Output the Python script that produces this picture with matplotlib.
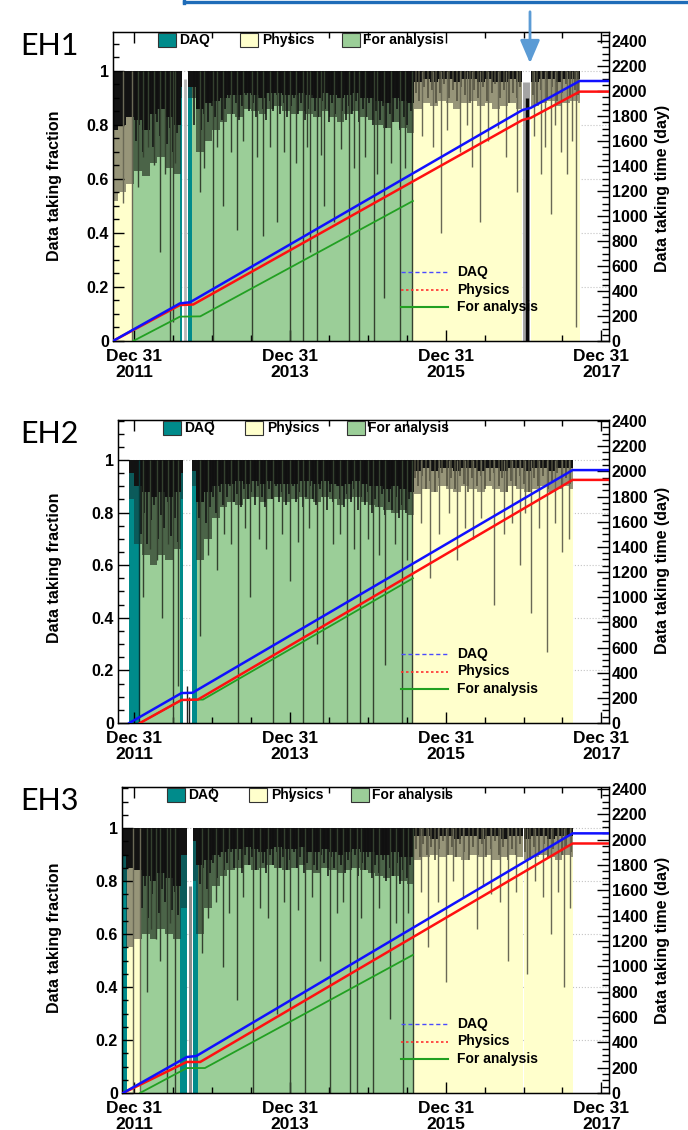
import numpy as np
import matplotlib.pyplot as plt
from matplotlib.patches import Rectangle, FancyArrowPatch
from matplotlib.lines import Line2D
from matplotlib.ticker import MultipleLocator

plt.rcParams['font.family'] = ['Liberation Sans', 'DejaVu Sans']
plt.rcParams['font.weight'] = 'bold'

W, H = 688, 1130

# daily fractions, summarised in 0.1-year bins starting at 2011.7 (percent)
BIN0, BIN = 2011.7, 0.1

# ---------------- EH1 ----------------
eh1_segments = [(2011.73, 2011.98, 'phys'), (2011.98, 2012.59, 'ana'),
                (2012.59, 2012.615, 'daq'), (2012.69, 2012.745, 'daq'),
                (2012.745, 2015.58, 'ana'), (2015.58, 2016.985, 'phys'),
                (2017.09, 2017.72, 'phys')]
eh1_solid = [52, 55, 58,
             63, 61, 66, 68, 64, 62, 90, 90, 70, 74,
             78, 81, 84, 83, 86, 85, 84, 86, 87, 85,
             84, 85, 84, 83, 85, 83, 81, 84, 85, 83,
             82, 80, 79, 81, 79, 77, 86, 88, 87, 89,
             88, 86, 88, 89, 87, 88, 86, 87, 88, 86,
             86, 87, 88, 89, 87, 88, 89, 88]
eh1_black = [78, 80, 83,
             82, 78, 84, 86, 83, 80, 94, 94, 86, 88,
             89, 90, 91, 91, 92, 91, 90, 92, 92, 91,
             91, 92, 91, 90, 92, 91, 90, 91, 92, 90,
             90, 89, 88, 90, 89, 88, 96, 97, 96, 97,
             97, 96, 97, 97, 96, 97, 96, 96, 97, 96,
             96, 96, 97, 97, 96, 97, 97, 97]
# days that fall well below the bin level: (year, fraction)
eh1_dips = [(2011.862, 0.51), (2011.98, 0.0), (2012.055, 0.57), (2012.18, 0.72),
            (2012.334, 0.33), (2012.463, 0.0), (2012.501, 0.07), (2012.848, 0.55),
            (2013.019, 0.0), (2013.144, 0.50), (2013.320, 0.41), (2013.513, 0.0),
            (2013.658, 0.39), (2013.834, 0.44), (2014.005, 0.0), (2014.172, 0.0),
            (2014.262, 0.33), (2014.348, 0.0), (2014.433, 0.50), (2014.562, 0.44),
            (2014.754, 0.0), (2014.883, 0.0), (2015.076, 0.0), (2015.204, 0.16),
            (2015.419, 0.0), (2015.575, 0.0),
            (2012.12, 0.68), (2012.26, 0.65), (2012.40, 0.62), (2012.52, 0.66),
            (2012.90, 0.64), (2013.06, 0.72), (2013.24, 0.70), (2013.40, 0.74),
            (2013.58, 0.68), (2013.74, 0.72), (2013.92, 0.70), (2014.08, 0.66),
            (2014.22, 0.72), (2014.40, 0.69), (2014.66, 0.71), (2014.82, 0.64),
            (2014.96, 0.68), (2015.12, 0.62), (2015.30, 0.66), (2015.48, 0.64),
            (2015.946, 0.40), (2016.341, 0.645), (2016.447, 0.44), (2016.679, 0.79),
            (2016.919, 0.55), (2017.219, 0.62), (2017.347, 0.47), (2017.476, 0.70),
            (2017.562, 0.62), (2017.668, 0.05),
            (2015.70, 0.76), (2015.84, 0.72), (2016.02, 0.78), (2016.18, 0.70),
            (2016.27, 0.80), (2016.55, 0.74), (2016.78, 0.68), (2017.14, 0.76),
            (2017.28, 0.72), (2017.40, 0.80), (2017.62, 0.74)]
# ragged lower edge of the dark band: (year, fraction)
eh1_streaks = [(2012.02, .74), (2012.07, .80), (2012.11, .70), (2012.15, .78), (2012.20, .84),
               (2012.24, .72), (2012.29, .81), (2012.33, .76), (2012.37, .86), (2012.42, .73),
               (2012.46, .79), (2012.50, .70), (2012.55, .77),
               (2012.77, .80), (2012.81, .86), (2012.86, .78), (2012.90, .84), (2012.95, .81),
               (2013.00, .87), (2013.04, .83), (2013.08, .89), (2013.13, .82), (2013.17, .86),
               (2013.22, .90), (2013.26, .84), (2013.31, .88), (2013.35, .82), (2013.39, .87),
               (2013.44, .91), (2013.48, .85), (2013.53, .88), (2013.57, .83), (2013.61, .90),
               (2013.66, .86), (2013.70, .82), (2013.75, .89), (2013.79, .85), (2013.84, .91),
               (2013.88, .84), (2013.92, .88), (2013.97, .83), (2014.01, .87), (2014.06, .90),
               (2014.10, .84), (2014.14, .88), (2014.19, .82), (2014.23, .86), (2014.28, .90),
               (2014.32, .85), (2014.36, .83), (2014.41, .89), (2014.45, .86), (2014.50, .81),
               (2014.54, .88), (2014.58, .84), (2014.63, .90), (2014.67, .85), (2014.72, .82),
               (2014.76, .87), (2014.80, .84), (2014.85, .89), (2014.89, .81), (2014.94, .86),
               (2014.98, .83), (2015.02, .88), (2015.07, .80), (2015.11, .85), (2015.16, .82),
               (2015.20, .87), (2015.24, .79), (2015.29, .84), (2015.33, .81), (2015.38, .86),
               (2015.42, .78), (2015.46, .83), (2015.51, .80), (2015.55, .85),
               (2015.62, .92), (2015.66, .89), (2015.72, .94), (2015.77, .90), (2015.82, .93),
               (2015.88, .88), (2015.93, .92), (2015.98, .95), (2016.04, .90), (2016.09, .93),
               (2016.14, .89), (2016.20, .94), (2016.25, .91), (2016.31, .88), (2016.36, .93),
               (2016.42, .90), (2016.48, .94), (2016.53, .89), (2016.59, .92), (2016.64, .95),
               (2016.70, .90), (2016.75, .93), (2016.81, .88), (2016.86, .92), (2016.92, .90),
               (2016.96, .94), (2017.12, .91), (2017.17, .88), (2017.23, .93), (2017.30, .90),
               (2017.36, .94), (2017.43, .89), (2017.49, .92), (2017.55, .95), (2017.60, .90),
               (2017.66, .93), (2017.70, .91)]
# short runs inside the shutdowns: (year, top, colour, width)
eh1_gap_marks = [(2012.65, 0.97, '#b8b8b8', 2.0),
                 (2017.035, 0.96, '#a4a4a4', 5.0),
                 (2017.04, 0.90, '#0a0a0a', 2.4)]
eh1_daq = [(2011.73, 0), (2012.59, 301), (2012.72, 310), (2016.987, 1848),
           (2017.09, 1864), (2017.72, 2080), (2018.10, 2080)]
eh1_phys = [(2011.73, 0), (2012.59, 288), (2012.76, 292), (2016.987, 1768),
            (2017.09, 1784), (2017.72, 1995), (2018.10, 1995)]
eh1_ana = [(2011.99, 0), (2012.59, 195), (2012.85, 197), (2015.58, 1120)]

# ---------------- EH2 ----------------
eh2_segments = [(2011.94, 2012.07, 'daq'), (2012.07, 2012.59, 'ana'),
                (2012.59, 2012.63, 'daq'), (2012.74, 2012.805, 'daq'),
                (2012.805, 2015.58, 'ana'), (2015.58, 2017.63, 'phys')]
eh2_solid = [0, 0, 85,
             68, 64, 60, 64, 62, 66, 85, 90, 62, 70,
             78, 82, 84, 83, 85, 86, 84, 85, 86, 84,
             85, 86, 85, 84, 86, 85, 83, 85, 86, 84,
             83, 82, 81, 80, 81, 79, 87, 89, 88, 90,
             89, 88, 90, 89, 88, 90, 89, 88, 90, 89,
             88, 89, 90, 88, 89, 90, 89, 0]
eh2_black = [0, 0, 95,
             90, 88, 86, 88, 86, 88, 95, 96, 84, 88,
             90, 91, 91, 92, 91, 92, 91, 92, 91, 91,
             91, 92, 92, 91, 92, 91, 90, 91, 92, 91,
             90, 90, 89, 90, 89, 88, 96, 97, 96, 97,
             97, 96, 97, 97, 96, 97, 97, 96, 97, 97,
             96, 97, 97, 96, 97, 97, 97, 0]
eh2_dips = [(2012.07, 0.0), (2012.12, 0.48), (2012.356, 0.40), (2012.505, 0.0),
            (2012.569, 0.14), (2012.847, 0.33), (2013.062, 0.58), (2013.339, 0.0),
            (2013.489, 0.48), (2013.788, 0.0), (2014.003, 0.54), (2014.173, 0.0),
            (2014.345, 0.30), (2014.43, 0.0), (2014.73, 0.0), (2014.90, 0.0),
            (2015.072, 0.0), (2015.222, 0.22), (2015.436, 0.0), (2015.575, 0.0),
            (2012.20, 0.66), (2012.30, 0.62), (2012.44, 0.68), (2012.95, 0.64),
            (2013.15, 0.72), (2013.25, 0.68), (2013.42, 0.74), (2013.60, 0.70),
            (2013.70, 0.66), (2013.90, 0.72), (2014.10, 0.69), (2014.25, 0.74),
            (2014.55, 0.68), (2014.65, 0.72), (2014.82, 0.66), (2015.00, 0.70),
            (2015.15, 0.64), (2015.35, 0.68), (2015.50, 0.62),
            (2015.80, 0.55), (2016.15, 0.62), (2016.35, 0.70), (2016.62, 0.45),
            (2016.95, 0.60), (2017.10, 0.42), (2017.30, 0.27), (2017.50, 0.65),
            (2015.68, 0.76), (2015.92, 0.72), (2016.05, 0.80), (2016.25, 0.74),
            (2016.45, 0.78), (2016.75, 0.72), (2016.85, 0.76), (2017.02, 0.80),
            (2017.20, 0.74), (2017.40, 0.76), (2017.58, 0.70)]
eh2_streaks = [(2012.09, .72), (2012.13, .80), (2012.17, .68), (2012.22, .77), (2012.26, .83),
               (2012.31, .70), (2012.35, .79), (2012.39, .74), (2012.44, .84), (2012.48, .71),
               (2012.52, .78), (2012.56, .69),
               (2012.83, .78), (2012.88, .84), (2012.92, .76), (2012.97, .82), (2013.01, .86),
               (2013.05, .80), (2013.10, .88), (2013.14, .83), (2013.19, .86), (2013.23, .90),
               (2013.28, .84), (2013.32, .87), (2013.37, .82), (2013.41, .89), (2013.46, .85),
               (2013.50, .88), (2013.55, .83), (2013.59, .90), (2013.64, .86), (2013.68, .82),
               (2013.73, .89), (2013.77, .85), (2013.82, .90), (2013.86, .84), (2013.90, .88),
               (2013.95, .83), (2013.99, .87), (2014.04, .90), (2014.08, .84), (2014.12, .88),
               (2014.17, .82), (2014.21, .86), (2014.26, .90), (2014.30, .85), (2014.34, .83),
               (2014.39, .89), (2014.43, .86), (2014.48, .81), (2014.52, .88), (2014.56, .84),
               (2014.61, .90), (2014.65, .85), (2014.70, .82), (2014.74, .87), (2014.78, .84),
               (2014.83, .89), (2014.87, .81), (2014.92, .86), (2014.96, .83), (2015.00, .88),
               (2015.05, .80), (2015.09, .85), (2015.14, .82), (2015.18, .87), (2015.22, .79),
               (2015.27, .84), (2015.31, .81), (2015.36, .86), (2015.40, .78), (2015.44, .83),
               (2015.49, .80), (2015.53, .85),
               (2015.61, .93), (2015.65, .90), (2015.70, .94), (2015.75, .89), (2015.80, .92),
               (2015.86, .88), (2015.91, .93), (2015.96, .95), (2016.02, .90), (2016.07, .93),
               (2016.12, .89), (2016.18, .94), (2016.23, .91), (2016.29, .88), (2016.34, .93),
               (2016.40, .90), (2016.46, .94), (2016.51, .89), (2016.57, .92), (2016.62, .95),
               (2016.68, .90), (2016.73, .93), (2016.79, .88), (2016.84, .92), (2016.90, .90),
               (2016.95, .94), (2017.01, .91), (2017.07, .88), (2017.13, .93), (2017.19, .90),
               (2017.25, .94), (2017.31, .89), (2017.37, .92), (2017.43, .95), (2017.49, .90),
               (2017.54, .93), (2017.60, .91)]
eh2_gap_marks = [(2012.68, 0.14, '#202020', 1.0), (2012.70, 0.10, '#202020', 1.0)]
eh2_daq = [(2011.94, 0), (2012.61, 238), (2012.75, 240), (2017.63, 2010),
           (2018.10, 2010)]
eh2_phys = [(2012.077, 0), (2012.61, 183), (2012.82, 186), (2017.63, 1932),
            (2018.10, 1932)]
eh2_ana = [(2012.077, 0), (2012.61, 183), (2012.885, 186), (2015.58, 1150)]

# ---------------- EH3 ----------------
eh3_segments = [(2011.86, 2011.91, 'daq'), (2011.91, 2012.077, 'phys'),
                (2012.077, 2012.59, 'ana'), (2012.59, 2012.677, 'daq'),
                (2012.76, 2012.825, 'daq'), (2012.825, 2015.58, 'ana'),
                (2015.58, 2017.63, 'phys')]
eh3_solid = [0, 80, 55,
             58, 60, 58, 62, 60, 58, 70, 80, 60, 70,
             78, 82, 84, 85, 86, 84, 85, 86, 85, 84,
             85, 86, 84, 83, 85, 84, 83, 84, 85, 84,
             83, 82, 81, 82, 80, 79, 88, 89, 90, 89,
             90, 89, 88, 90, 89, 90, 88, 89, 90, 89,
             88, 89, 90, 89, 88, 90, 89, 0]
eh3_black = [0, 90, 85,
             84, 82, 80, 83, 81, 78, 90, 95, 86, 88,
             90, 91, 92, 92, 93, 92, 91, 92, 93, 92,
             92, 93, 91, 91, 92, 91, 90, 91, 92, 91,
             91, 90, 90, 91, 89, 89, 97, 97, 96, 97,
             97, 96, 97, 97, 96, 97, 97, 96, 97, 97,
             96, 97, 97, 96, 97, 97, 97, 0]
eh3_dips = [(2011.987, 0.0), (2012.077, 0.0), (2012.163, 0.38), (2012.334, 0.50),
            (2012.42, 0.0), (2012.526, 0.0), (2012.869, 0.53), (2013.142, 0.475),
            (2013.318, 0.35), (2013.531, 0.0), (2013.832, 0.30), (2014.003, 0.0),
            (2014.195, 0.0), (2014.388, 0.50), (2014.516, 0.0), (2014.773, 0.0),
            (2014.859, 0.0), (2015.072, 0.0), (2015.286, 0.28), (2015.457, 0.0),
            (2015.578, 0.0),
            (2012.22, 0.62), (2012.28, 0.58), (2012.46, 0.64), (2012.95, 0.66),
            (2013.05, 0.72), (2013.22, 0.68), (2013.40, 0.74), (2013.62, 0.70),
            (2013.72, 0.66), (2013.92, 0.72), (2014.10, 0.69), (2014.28, 0.74),
            (2014.60, 0.68), (2014.68, 0.72), (2014.92, 0.66), (2015.15, 0.70),
            (2015.36, 0.64), (2015.52, 0.68),
            (2015.78, 0.55), (2016.00, 0.42), (2016.40, 0.62), (2016.58, 0.75),
            (2016.80, 0.50), (2017.05, 0.45), (2017.35, 0.60), (2017.52, 0.40),
            (2015.68, 0.76), (2015.90, 0.72), (2016.10, 0.80), (2016.22, 0.74),
            (2016.48, 0.78), (2016.70, 0.72), (2016.90, 0.76), (2017.15, 0.80),
            (2017.25, 0.74), (2017.44, 0.76), (2017.60, 0.70)]
eh3_streaks = [(2012.10, .70), (2012.14, .78), (2012.18, .66), (2012.23, .75), (2012.27, .82),
               (2012.32, .68), (2012.36, .77), (2012.40, .72), (2012.45, .83), (2012.49, .69),
               (2012.53, .76), (2012.57, .67),
               (2012.85, .79), (2012.89, .85), (2012.94, .77), (2012.98, .83), (2013.02, .87),
               (2013.07, .81), (2013.11, .89), (2013.16, .84), (2013.20, .87), (2013.25, .91),
               (2013.29, .85), (2013.34, .88), (2013.38, .83), (2013.43, .90), (2013.47, .86),
               (2013.51, .89), (2013.56, .84), (2013.60, .91), (2013.65, .87), (2013.69, .83),
               (2013.74, .90), (2013.78, .86), (2013.83, .91), (2013.87, .85), (2013.91, .89),
               (2013.96, .84), (2014.00, .88), (2014.05, .91), (2014.09, .85), (2014.13, .89),
               (2014.18, .83), (2014.22, .87), (2014.27, .91), (2014.31, .86), (2014.35, .84),
               (2014.40, .90), (2014.44, .87), (2014.49, .82), (2014.53, .89), (2014.57, .85),
               (2014.62, .91), (2014.66, .86), (2014.71, .83), (2014.75, .88), (2014.79, .85),
               (2014.84, .90), (2014.88, .82), (2014.93, .87), (2014.97, .84), (2015.01, .89),
               (2015.06, .81), (2015.10, .86), (2015.15, .83), (2015.19, .88), (2015.23, .80),
               (2015.28, .85), (2015.32, .82), (2015.37, .87), (2015.41, .79), (2015.45, .84),
               (2015.50, .81), (2015.54, .86),
               (2015.62, .92), (2015.67, .89), (2015.71, .94), (2015.76, .90), (2015.81, .93),
               (2015.87, .88), (2015.92, .92), (2015.97, .95), (2016.03, .90), (2016.08, .93),
               (2016.13, .89), (2016.19, .94), (2016.24, .91), (2016.30, .88), (2016.35, .93),
               (2016.41, .90), (2016.47, .94), (2016.52, .89), (2016.58, .92), (2016.63, .95),
               (2016.69, .90), (2016.74, .93), (2016.80, .88), (2016.85, .92), (2016.91, .90),
               (2016.96, .94), (2017.02, .91), (2017.08, .88), (2017.14, .93), (2017.20, .90),
               (2017.26, .94), (2017.32, .89), (2017.38, .92), (2017.44, .95), (2017.50, .90),
               (2017.55, .93), (2017.61, .91)]
eh3_gap_marks = [(2012.72, 0.78, '#8c8c8c', 2.2)]
eh3_daq = [(2011.86, 0), (2012.677, 284), (2012.80, 292), (2017.63, 2050),
           (2018.10, 2050)]
eh3_phys = [(2011.86, 0), (2012.677, 245), (2012.85, 245), (2017.63, 1970),
            (2018.10, 1970)]
eh3_ana = [(2012.077, 0), (2012.677, 197), (2012.91, 197), (2015.58, 1090)]

halls = [
    ('EH1', eh1_segments, eh1_solid, eh1_black, eh1_dips, eh1_streaks, eh1_gap_marks,
     eh1_daq, eh1_phys, eh1_ana),
    ('EH2', eh2_segments, eh2_solid, eh2_black, eh2_dips, eh2_streaks, eh2_gap_marks,
     eh2_daq, eh2_phys, eh2_ana),
    ('EH3', eh3_segments, eh3_solid, eh3_black, eh3_dips, eh3_streaks, eh3_gap_marks,
     eh3_daq, eh3_phys, eh3_ana),
]

# frame in pixels: left, top, right, bottom; y-range top (fraction), right axis top (days)
frames = [(113, 32, 609, 341, 1.144, 2472),
          (118, 420, 609, 723, 1.152, 2408),
          (122, 787, 609, 1093, 1.155, 2416)]
X2012, PX_PER_YEAR = 134, 77.9

LIGHT = {'ana': '#9bce98', 'phys': '#ffffcc', 'daq': '#008b8b'}
MID = {'ana': '#4b6448', 'phys': '#979579', 'daq': '#0b5a5a'}
DIP = {'ana': '#34412f', 'phys': '#6a6956', 'daq': '#063838'}
STREAK = {'ana': '#101010', 'phys': '#4e4d3c', 'daq': '#062e2e'}
BLACK = '#121212'


def px_to_year(x):
    return 2012 + (x - X2012) / PX_PER_YEAR


def kind_at(segments, yr):
    for a, b, k in segments:
        if a <= yr <= b:
            return k
    return None


fig = plt.figure(figsize=(W / 100, H / 100), dpi=100)


def fx(px):
    return px / W


def fy(py):
    return 1 - py / H


for n, (name, segs, solid, black, dips, streaks, marks, daq, phys, ana) in enumerate(halls):
    l, t, r, b, ytop, rtop = frames[n]
    ax = fig.add_axes([fx(l), fy(b), (r - l) / W, (b - t) / H])
    ax.set_xlim(px_to_year(l), px_to_year(r))
    ax.set_ylim(0, ytop)

    for g in [0.2, 0.4, 0.6, 0.8, 1.0]:
        ax.axhline(g, color='#c4c4c4', lw=0.8, ls=':', zorder=0.5)

    # stacked daily-fraction layers, per segment and bin
    for a, e, kind in segs:
        lefts, widths, lo, hi = [], [], [], []
        for i in range(len(solid)):
            b0 = BIN0 + i * BIN
            s = max(a, b0)
            f = min(e, b0 + BIN)
            if f <= s:
                continue
            lefts.append(s)
            widths.append(f - s)
            lo.append(solid[i] / 100)
            hi.append(black[i] / 100)
        lefts, widths = np.array(lefts), np.array(widths)
        lo, hi = np.array(lo), np.array(hi)
        ax.bar(lefts, lo, width=widths, align='edge', color=LIGHT[kind], lw=0, zorder=1)
        ax.bar(lefts, hi - lo, bottom=lo, width=widths, align='edge',
               color=MID[kind], lw=0, zorder=1)
        ax.bar(lefts, 1 - hi, bottom=hi, width=widths, align='edge',
               color=BLACK, lw=0, zorder=1)

    for yr, v in streaks:
        k = kind_at(segs, yr) or 'ana'
        ax.vlines(yr, v, 1.0, color=STREAK[k], lw=1.1, zorder=2)
    for yr, v in dips:
        k = kind_at(segs, yr) or 'ana'
        ax.vlines(yr, v, 1.0, color=DIP[k], lw=1.0, zorder=2)
    for yr, top, c, w in marks:
        ax.vlines(yr, 0, top, color=c, lw=w, zorder=2)

    ax.set_xticks([2012, 2014, 2016, 2018])
    ax.set_xticklabels(['Dec 31\n2011', 'Dec 31\n2013', 'Dec 31\n2015', 'Dec 31\n2017'],
                       fontsize=12.5, fontweight='bold', linespacing=1.1)
    ax.xaxis.set_minor_locator(MultipleLocator(0.5))
    ax.set_yticks([0, 0.2, 0.4, 0.6, 0.8, 1.0])
    ax.set_yticklabels(['0', '0.2', '0.4', '0.6', '0.8', '1'], fontsize=11.5,
                       fontweight='bold')
    ax.yaxis.set_minor_locator(MultipleLocator(0.05))
    ax.tick_params(axis='both', which='both', direction='in', top=True,
                   right=False, width=1, colors='black')
    ax.tick_params(which='major', length=8)
    ax.tick_params(which='minor', length=4.5)
    ax.tick_params(axis='x', pad=5.5)
    ax.tick_params(axis='y', pad=3)
    for sp in ax.spines.values():
        sp.set_linewidth(1.0)

    ax2 = ax.twinx()
    ax2.set_ylim(0, rtop)
    ax2.set_yticks(range(0, 2401, 200))
    ax2.set_yticklabels([str(v) for v in range(0, 2401, 200)], fontsize=11.5,
                        fontweight='bold')
    ax2.yaxis.set_minor_locator(MultipleLocator(50))
    ax2.tick_params(axis='y', which='both', direction='in', pad=2, width=1)
    ax2.tick_params(which='major', length=9)
    ax2.tick_params(which='minor', length=5)

    for pts, c, lw in [(ana, '#22a022', 1.3), (phys, '#ff1010', 1.8),
                       (daq, '#1010ff', 1.8)]:
        xs = [p[0] for p in pts]
        ys = [p[1] for p in pts]
        ax2.plot(xs, ys, color=c, lw=lw, zorder=3, solid_joinstyle='round')

    # top legend with filled boxes
    for bx, tx, c, lab in [(l + 45, l + 66, LIGHT['daq'], 'DAQ'),
                           (l + 127, l + 149, LIGHT['phys'], 'Physics'),
                           (l + 229, l + 250, LIGHT['ana'], 'For analysis')]:
        fig.add_artist(Rectangle((fx(bx), fy(t + 15)), 18 / W, 14 / H,
                                 transform=fig.transFigure, facecolor=c,
                                 edgecolor='#333333', lw=0.8))
        fig.text(fx(tx), fy(t + 8), lab, fontsize=10, fontweight='bold',
                 va='center', ha='left')

    # line legend, lower right
    for j, (c, ls, lw, lab) in enumerate([('#4a4aff', (0, (3, 2)), 1.0, 'DAQ'),
                                          ('#ff3030', (0, (1.5, 1.5)), 1.2, 'Physics'),
                                          ('#22a022', '-', 1.5, 'For analysis')]):
        yy = b - 69 + j * 17.5
        fig.add_artist(Line2D([fx(401), fx(448)], [fy(yy), fy(yy)],
                              transform=fig.transFigure, color=c, ls=ls, lw=lw))
        fig.text(fx(457), fy(yy), lab, fontsize=10, fontweight='bold',
                 va='center', ha='left')

    fig.text(fx(55), fy(b - 155), 'Data taking fraction', rotation=90,
             fontsize=11.5, fontweight='bold', ha='center', va='center')
    fig.text(fx(662), fy(b - 153), 'Data taking time (day)', rotation=90,
             fontsize=11.5, fontweight='bold', ha='center', va='center')
    fig.text(fx(20), fy(t + 14), name, fontsize=22, fontweight='normal',
             family=['Lato', 'DejaVu Sans'], ha='left', va='center')

# callout frame edge and arrow at the top
fig.add_artist(Line2D([fx(184), fx(688)], [fy(2), fy(2)], transform=fig.transFigure,
                      color='#1f6cb8', lw=2.4))
fig.add_artist(Line2D([fx(184), fx(184)], [fy(0), fy(3)], transform=fig.transFigure,
                      color='#1f6cb8', lw=2.4))
fig.add_artist(FancyArrowPatch((fx(530), fy(9)), (fx(530), fy(66)),
                               transform=fig.transFigure, color='#5b9bd5',
                               arrowstyle='-|>,head_length=7,head_width=3', lw=2.0,
                               mutation_scale=2))

fig.savefig('out.png', dpi=100)
